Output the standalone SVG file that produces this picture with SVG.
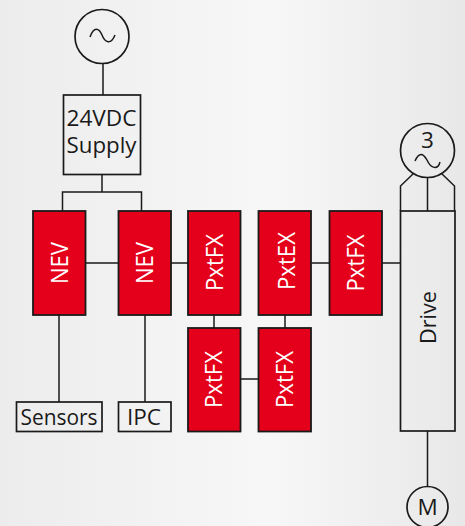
<svg xmlns="http://www.w3.org/2000/svg" width="465" height="526" viewBox="0 0 465 526">
<style>
.l{fill:none;stroke:#1a1a1a;stroke-width:1.5}
.b{fill:none;stroke:#1a1a1a;stroke-width:1.7}
.r{fill:#e4001a;stroke:#1a1a1a;stroke-width:1.8}
text{font-family:"Open Sans","Noto Sans",sans-serif;font-size:22.500px;text-anchor:middle;fill:#1a1a1a}
.w{fill:#fff;font-size:23px}
</style>
<defs>
<linearGradient id="bg" x1="0" x2="1" y1="0" y2="0">
<stop offset="0" stop-color="#ececec"/><stop offset="0.58" stop-color="#f7f7f7"/><stop offset="1" stop-color="#e8e8e8"/>
</linearGradient>
</defs>
<rect width="465" height="526" fill="url(#bg)"/>
<g id="connectors">
<path class="l" d="M103 63V95M102 174V192M62.500 211V192H141.500V211M85.500 263H118.500M171 263H188M214 315V328M285 315V328M240.500 379H258.500M311.500 263H329.500M382 263H400.500M59 315V402M145 315V402M427.500 431V487"/>
<path class="l" d="M413 174L400.500 186V211M427.500 177.500V211M442 174L454.500 186V211"/>
</g>
<g id="source"><circle class="b" cx="102" cy="36.500" r="27"/><path class="l" d="M90 37C94 26 99 28 102 35C105 43 111 45 115 35"/></g>
<g id="supply"><rect class="b" x="63.500" y="95" width="77" height="79.500"/><text x="101.500" y="126" textLength="70" lengthAdjust="spacingAndGlyphs">24VDC</text><text x="101.500" y="153" textLength="70" lengthAdjust="spacingAndGlyphs">Supply</text></g>
<g id="nev1"><rect class="r" x="33" y="211" width="52.500" height="104"/><text class="w" transform="translate(67.500 263) rotate(-90)" textLength="42" lengthAdjust="spacingAndGlyphs">NEV</text></g>
<g id="nev2"><rect class="r" x="118.500" y="211" width="52.500" height="104"/><text class="w" transform="translate(153 263) rotate(-90)" textLength="42" lengthAdjust="spacingAndGlyphs">NEV</text></g>
<g id="pxtfx1"><rect class="r" x="188" y="211" width="52.500" height="104"/><text class="w" transform="translate(222.500 262.500) rotate(-90)" textLength="57" lengthAdjust="spacingAndGlyphs">PxtFX</text></g>
<g id="pxtex"><rect class="r" x="258.500" y="211" width="52.500" height="104"/><text class="w" transform="translate(294.500 261) rotate(-90)" textLength="58" lengthAdjust="spacingAndGlyphs">PxtEX</text></g>
<g id="pxtfx2"><rect class="r" x="329.500" y="211" width="52.500" height="104"/><text class="w" transform="translate(364 263) rotate(-90)" textLength="57" lengthAdjust="spacingAndGlyphs">PxtFX</text></g>
<g id="pxtfx3"><rect class="r" x="188" y="328" width="52.500" height="103.500"/><text class="w" transform="translate(222 379.500) rotate(-90)" textLength="57" lengthAdjust="spacingAndGlyphs">PxtFX</text></g>
<g id="pxtfx4"><rect class="r" x="258.500" y="328" width="52.500" height="103.500"/><text class="w" transform="translate(293 379.500) rotate(-90)" textLength="57" lengthAdjust="spacingAndGlyphs">PxtFX</text></g>
<g id="sensors"><rect class="b" x="16.500" y="402" width="85.500" height="29.500"/><text x="59" y="425" textLength="77" lengthAdjust="spacingAndGlyphs">Sensors</text></g>
<g id="ipc"><rect class="b" x="118.500" y="402" width="52.500" height="29.500"/><text x="144" y="425" textLength="34" lengthAdjust="spacingAndGlyphs">IPC</text></g>
<g id="drive"><rect class="b" x="400.500" y="211" width="54.500" height="220"/><text transform="translate(435.500 317.500) rotate(-90)" textLength="53" lengthAdjust="spacingAndGlyphs">Drive</text></g>
<g id="mains3"><circle class="b" cx="427.500" cy="150.500" r="27"/><text x="427.500" y="148">3</text><path class="l" d="M415 161C419 152 423 153 427 160C431 169 438 170 440 162"/></g>
<g id="motor"><circle class="b" cx="427.500" cy="507" r="20.500"/><text x="427.500" y="515">M</text></g>
</svg>
